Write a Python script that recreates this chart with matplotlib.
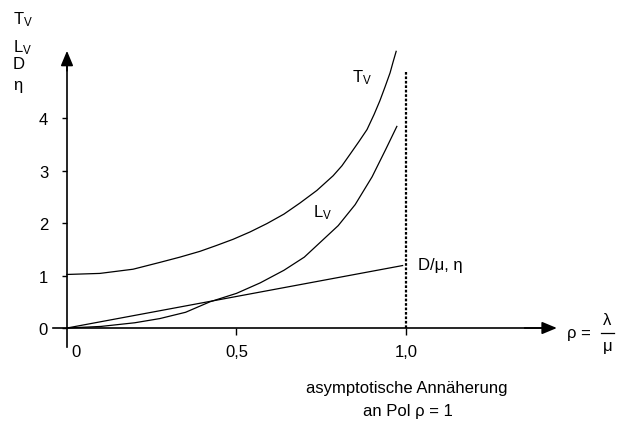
import matplotlib
matplotlib.use('Agg')
import matplotlib.pyplot as plt

plt.rcParams['font.family'] = ['Liberation Sans', 'DejaVu Sans']
plt.rcParams['mathtext.fontset'] = 'custom'
plt.rcParams['mathtext.rm'] = 'Liberation Sans'
plt.rcParams['mathtext.it'] = 'Liberation Sans'
plt.rcParams['mathtext.sf'] = 'Liberation Sans'

# ==================== Daten ====================
rho_tv = [0.0, 0.097, 0.195, 0.274, 0.333, 0.392, 0.440, 0.490, 0.540, 0.590, 0.640, 0.687,
          0.737, 0.785, 0.811, 0.835, 0.861, 0.885, 0.906, 0.923, 0.938, 0.953, 0.962, 0.971]
tv = [1.02, 1.04, 1.12, 1.25, 1.35, 1.46, 1.57, 1.69, 1.83, 1.99, 2.17, 2.38,
      2.62, 2.90, 3.09, 3.31, 3.55, 3.78, 4.07, 4.33, 4.59, 4.86, 5.07, 5.27]

rho_lv = [0.0, 0.1, 0.2, 0.274, 0.35, 0.422, 0.5, 0.57, 0.64, 0.7, 0.75, 0.8,
          0.85, 0.9, 0.94, 0.973]
lv = [0.0, 0.03, 0.1, 0.18, 0.3, 0.5, 0.66, 0.86, 1.1, 1.35, 1.65, 1.95,
      2.35, 2.88, 3.4, 3.84]

rho_d = [0.0, 0.99]
d = [0.0, 1.19]

pol_rho = 1.0
pol_top = 4.9

yticks = [0, 1, 2, 3, 4]
ylabels = ['0', '1', '2', '3', '4']
xticks = [0.5, 1.0]
xlabels = ['0,5', '1,0']

# ==================== Zeichnen ====================
fig = plt.figure(figsize=(6.19, 4.39), dpi=100, facecolor='white')
ax = fig.add_axes([0, 0, 1, 1])
ax.set_xlim(-0.1976, 1.6283)
ax.set_ylim(-2.095, 6.267)

lw = 0.9
ax.plot(rho_tv, tv, color='black', lw=lw)
ax.plot(rho_lv, lv, color='black', lw=lw)
ax.plot(rho_d, d, color='black', lw=lw)
ax.plot([pol_rho, pol_rho], [0, pol_top], color='black', lw=1.6, ls=(0, (1.2, 0.8)))

# Achsen
for s in ['top', 'right']:
    ax.spines[s].set_visible(False)
ax.spines['left'].set_position(('data', 0))
ax.spines['bottom'].set_position(('data', 0))
ax.spines['left'].set_bounds(-0.36, 5.1)
ax.spines['bottom'].set_bounds(-0.041, 1.40)
ax.spines['left'].set_linewidth(1.2)
ax.spines['bottom'].set_linewidth(1.2)

arrow = dict(arrowstyle='-|>,head_length=0.6,head_width=0.25', color='black',
             lw=1.2, shrinkA=0, shrinkB=0, mutation_scale=15)
ax.annotate('', xy=(0, 5.28), xytext=(0, 4.9), arrowprops=arrow)
ax.annotate('', xy=(1.445, 0), xytext=(1.35, 0), arrowprops=arrow)

ax.set_yticks(yticks)
ax.set_yticklabels(ylabels)
ax.set_xticks(xticks)
ax.set_xticklabels(xlabels)
ax.tick_params(axis='y', direction='out', length=3.6, width=1.0, pad=10, labelsize=12)
ax.tick_params(axis='x', direction='out', length=5, width=1.0, pad=6.5, labelsize=12)

fs = 12
ax.text(0.028, -0.305, '0', ha='center', va='top', fontsize=fs)

# Beschriftung der y-Achse
ax.text(-0.159, 5.81, r'T$_\mathregular{V}$', fontsize=fs, va='baseline')
ax.text(-0.159, 5.28, r'L$_\mathregular{V}$', fontsize=fs, va='baseline')
ax.text(-0.159, 4.95, 'D', fontsize=fs, va='baseline')
ax.text(-0.159, 4.55, 'η', fontsize=fs, va='baseline')

# Kurvenbeschriftung
ax.text(0.841, 4.69, r'T$_\mathregular{V}$', fontsize=fs, va='baseline')
ax.text(0.726, 2.13, r'L$_\mathregular{V}$', fontsize=fs, va='baseline')
ax.text(1.035, 1.12, 'D/μ, η', fontsize=fs, va='baseline')

# rho = lambda / mu
ax.text(1.475, -0.171, 'ρ =', fontsize=fs, va='baseline', ha='left')
ax.text(1.594, 0.076, 'λ', fontsize=fs, va='baseline', ha='center')
ax.text(1.594, -0.419, 'μ', fontsize=fs, va='baseline', ha='center')
ax.plot([1.575, 1.614], [-0.095, -0.095], color='black', lw=0.9)

ax.text(1.003, -1.124, 'asymptotische Annäherung', fontsize=fs, ha='center', va='center')
ax.text(1.006, -1.562, 'an Pol ρ = 1', fontsize=fs, ha='center', va='center')

fig.savefig('out.png', dpi=100, facecolor='white')
